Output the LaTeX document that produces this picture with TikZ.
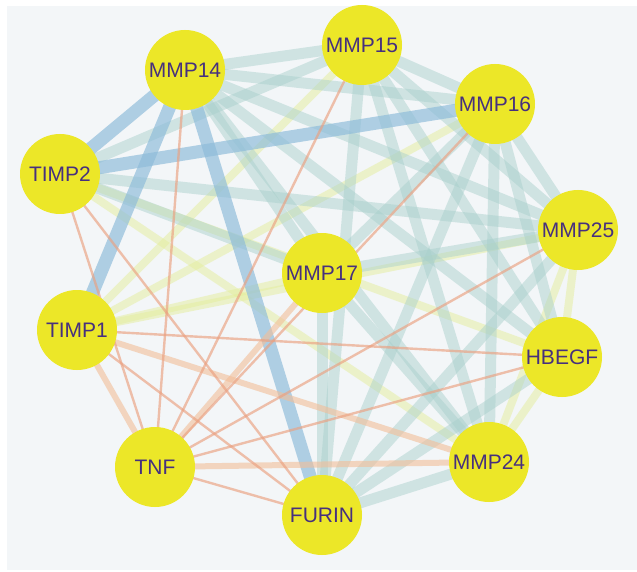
\documentclass[tikz,border=0pt]{standalone}
\usepackage{fontspec}
\setmainfont{Liberation Sans}
\definecolor{bgc}{HTML}{F3F6F8}
\definecolor{ndc}{RGB}{236,231,40}
\definecolor{txc}{HTML}{46307E}
\definecolor{blc}{HTML}{8EBCDA}
\definecolor{tlc}{HTML}{A9D0CC}
\definecolor{ylc}{HTML}{E4EE9C}
\definecolor{orc}{HTML}{EBA080}
\definecolor{pcc}{HTML}{F2BE98}
\pgfdeclarelayer{panel}
\pgfdeclarelayer{edges}
\pgfsetlayers{panel,edges,main}
\tikzset{
  nd/.style={circle, fill=ndc, draw=none, minimum size=80pt, inner sep=0pt,
    text=txc, font=\fontsize{21}{21}\selectfont},
  eb/.style={draw=blc, line width=13pt, draw opacity=0.68},
  et/.style={draw=tlc, line width=11pt, draw opacity=0.48},
  ey/.style={draw=ylc, line width=8pt, draw opacity=0.5},
  eo/.style={draw=orc, line width=2.4pt, draw opacity=0.65},
  ep/.style={draw=pcc, line width=6pt, draw opacity=0.6},
}
\begin{document}
\begin{tikzpicture}[x=1pt,y=-1pt]
\useasboundingbox (0,0) rectangle (637,572);
\begin{pgfonlayer}{panel}
\fill[white] (0,0) rectangle (637,572);
\fill[bgc] (7,6) rectangle (637,570);
\end{pgfonlayer}
% nodes
\node[nd] (mmp14) at (185,70)  {MMP14};
\node[nd] (mmp15) at (362,45)  {MMP15};
\node[nd] (mmp16) at (495,104) {MMP16};
\node[nd] (mmp25) at (578,230) {MMP25};
\node[nd] (mmp17) at (322,273) {MMP17};
\node[nd] (hbegf) at (562,357) {HBEGF};
\node[nd] (mmp24) at (489,462) {MMP24};
\node[nd] (furin) at (322,515) {FURIN};
\node[nd] (tnf)   at (155,467) {TNF};
\node[nd] (timp1) at (77,330)  {TIMP1};
\node[nd] (timp2) at (60,174)  {TIMP2};
\begin{pgfonlayer}{edges}
% yellow edges
\foreach \a/\b in {timp1/mmp17, timp1/mmp16, timp1/mmp25, hbegf/mmp24, mmp25/hbegf,
  mmp25/mmp24, timp2/hbegf, timp2/mmp24, timp1/mmp15}
  \draw[ey] (\a.center) -- (\b.center);
% teal edges
\foreach \a/\b in {mmp14/mmp15, mmp14/mmp16, mmp14/mmp25, mmp14/mmp24, mmp14/mmp17,
  mmp14/hbegf, mmp15/mmp16, mmp15/mmp25, mmp15/mmp24, mmp15/furin, mmp15/hbegf,
  mmp16/mmp25, mmp16/mmp24, mmp16/furin, mmp16/mmp17, mmp25/furin, mmp25/mmp17,
  mmp24/furin, mmp17/furin, mmp17/mmp24, timp2/mmp15, timp2/mmp25, timp2/mmp17,
  hbegf/furin, mmp16/hbegf}
  \draw[et] (\a.center) -- (\b.center);
% blue edges
\foreach \a/\b in {mmp14/timp2, mmp14/timp1, mmp14/furin, timp2/mmp16}
  \draw[eb] (\a.center) -- (\b.center);
% peach edges
\foreach \a/\b in {timp1/tnf, timp1/mmp24, mmp24/tnf, mmp17/tnf}
  \draw[ep] (\a.center) -- (\b.center);
% orange edges
\foreach \a/\b in {timp2/tnf, timp2/furin, mmp14/tnf, mmp15/tnf, mmp16/tnf, mmp25/tnf,
  hbegf/tnf, hbegf/timp1, timp1/furin, tnf/furin}
  \draw[eo] (\a.center) -- (\b.center);
\end{pgfonlayer}
\end{tikzpicture}
\end{document}
